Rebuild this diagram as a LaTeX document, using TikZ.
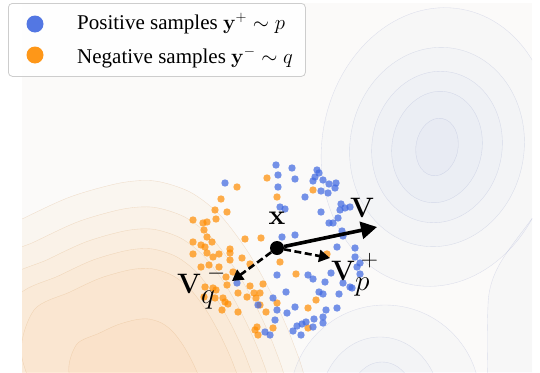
\documentclass[tikz,border=0pt]{standalone}
\usepackage[no-math]{fontspec}
\usepackage{graphicx}
\setmainfont{Liberation Serif}
\usetikzlibrary{arrows.meta}
\definecolor{bluept}{RGB}{65,105,225}
\definecolor{orangept}{RGB}{255,140,0}
\definecolor{plotbg}{RGB}{251,250,249}
\definecolor{orfill}{RGB}{250,160,60}
\definecolor{blfill}{RGB}{110,125,205}
\definecolor{orline}{RGB}{215,160,100}
\definecolor{blline}{RGB}{150,160,205}
\definecolor{legborder}{RGB}{205,205,205}
\newcommand{\bigsub}[1]{\raisebox{-3pt}{\scalebox{1.25}{$\scriptstyle #1$}}}
\newcommand{\highsup}[1]{\kern5pt\raisebox{2.5pt}{$\scriptstyle #1$}}
\tikzset{
  negpt/.style={fill=orangept, fill opacity=0.7},
  pospt/.style={fill=bluept, fill opacity=0.72},
  orlev/.style={fill=orfill, fill opacity=0.045, draw=orline, draw opacity=0.3, line width=0.35pt},
  bllev/.style={fill=blfill, fill opacity=0.025, draw=blline, draw opacity=0.3, line width=0.35pt},
  mainarrow/.style={line width=3.6pt, -{Triangle[length=16pt,width=17pt]}},
  dasharrow/.style={line width=2.6pt, dash pattern=on 7pt off 3.5pt, -{Triangle[length=11pt,width=12pt]}},
  lab/.style={inner sep=0pt, scale=1.13, font=\fontsize{24.88}{28}\selectfont},
  legtext/.style={inner sep=0pt, anchor=base west, font=\fontsize{21}{25}\selectfont},
  legdot/.style={circle, inner sep=0pt, minimum size=17pt, fill opacity=0.9}
}
\begin{document}
\begin{tikzpicture}[x=1pt,y=-1pt]
\useasboundingbox (0,0) rectangle (540,372);
\begin{scope}
  \clip (22,3) rectangle (532,372);
  \fill[plotbg] (22,3) rectangle (532,372);
  % orange density
  \foreach \s in {1,0.88,0.78,0.69,0.6,0.37}
    \path[orlev, shift={(145,400)}, scale=\s] plot[smooth cycle] coordinates
      {(-185,-150) (-125,-180) (-75,-203) (-25,-217) (10,-219) (45,-208) (75,-185) (103,-148) (127,-105) (147,-60) (160,-15) (145,30) (0,50) (-145,40) (-205,-70)};
  % blue density, upper right
  \foreach \rx/\ry in {115/140, 87/100, 65/76, 45/56, 21/29}
    \path[bllev, rotate around={-10:(437,147)}] (437,147) ellipse [x radius=\rx, y radius=\ry];
  % blue density, bottom
  \path[bllev] (385,400) ellipse [x radius=95, y radius=95];
  \path[bllev] (380,405) ellipse [x radius=60, y radius=68];
  \path[bllev] (382,400) ellipse [x radius=32, y radius=38];
  % blue density, right edge
  \path[bllev] (545,200) .. controls (515,245) and (489,265) .. (488,305) .. controls (487,330) and (487,350) .. (488,385) -- (545,385) -- cycle;
\end{scope}
% negative samples
\foreach \a/\b in {267/178, 237/187, 221/199, 277/197, 215/210, 227/212, 216/219, 193/220, 207/222, 203/223, 204/230, 207/237, 193/242, 201/245, 205/247, 212/242, 245/239, 261/238, 230/249, 313/190,
193/254, 207/253, 213/257, 219/254, 230/253, 230/260, 242/258, 250/264, 209/265, 201/267, 219/267, 233/272, 226/277, 227/285, 205/287, 213/288, 216/290, 204/297, 215/298, 223/298, 225/302, 228/304, 238/293, 250/286, 263/284, 254/293, 260/293, 247/297, 256/298, 222/310, 238/312, 260/305, 266/312, 257/327, 255/330, 258/335, 273/328, 277/303,
296/274, 316/300, 308/308, 308/328, 327/254, 280/262}
  \fill[negpt] (\a,\b) circle (3.7);
% positive samples
\foreach \a/\b in {276/165, 278/175, 225/183, 278/187, 280/207, 285/209, 282/237, 292/168,
295/179, 317/170, 319/173, 315/177, 313/181, 323/180, 329/184, 336/183, 335/188, 321/191, 328/193, 305/197, 341/204, 340/210, 345/208, 350/207, 321/212, 338/218, 333/223, 329/223, 342/231, 343/236, 295/235, 337/247, 355/248,
237/283, 277/275, 258/305, 273/298, 277/310, 275/320, 265/332, 270/335, 286/292, 287/313,
360/263, 357/267, 360/274, 331/273, 308/275, 313/279, 325/282, 343/283, 350/287, 352/288, 323/294, 339/294, 319/292, 295/307, 326/310, 337/308, 323/317, 306/322, 314/319, 323/323, 297/326, 302/324, 293/331, 301/335, 313/327, 355/257}
  \fill[pospt] (\a,\b) circle (3.7);
% anchor point and vectors
\node[circle, fill=black, inner sep=0pt, minimum size=14pt] (xdot) at (277,248) {};
\coordinate (vtip) at (377,227);
\coordinate (ptip) at (330,258);
\coordinate (qtip) at (232,281);
\draw[mainarrow] (xdot) -- (vtip);
\draw[dasharrow] (xdot) -- (ptip);
\draw[dasharrow] (xdot) -- (qtip);
\node[lab, anchor=base] (xl) at (277,224) {$\mathbf{x}$};
\node[lab, anchor=base west] (vl) at (350,217) {$\mathbf{V}$};
\node[lab, anchor=base west] (vpl) at (331,280) {$\mathbf{V}_{\bigsub{p}}^{\highsup{+}}$};
\node[lab, anchor=base west] (vql) at (177,293) {$\mathbf{V}_{\bigsub{q}}^{\highsup{-}}$};
% legend
\node[draw=legborder, line width=0.8pt, fill=white, fill opacity=0.9, rounded corners=4pt, minimum width=297pt, minimum height=73pt, anchor=north west, inner sep=0pt] (legend) at (8,3) {};
\node[legdot, fill=bluept] (lpos) at (35,24) {};
\node[legdot, fill=orangept] (lneg) at (35,55) {};
\node[legtext] (tpos) at (77,29) {Positive samples $\mathbf{y}^{+}\sim p$};
\node[legtext] (tneg) at (77,63) {Negative samples $\mathbf{y}^{-}\sim q$};
\end{tikzpicture}
\end{document}
